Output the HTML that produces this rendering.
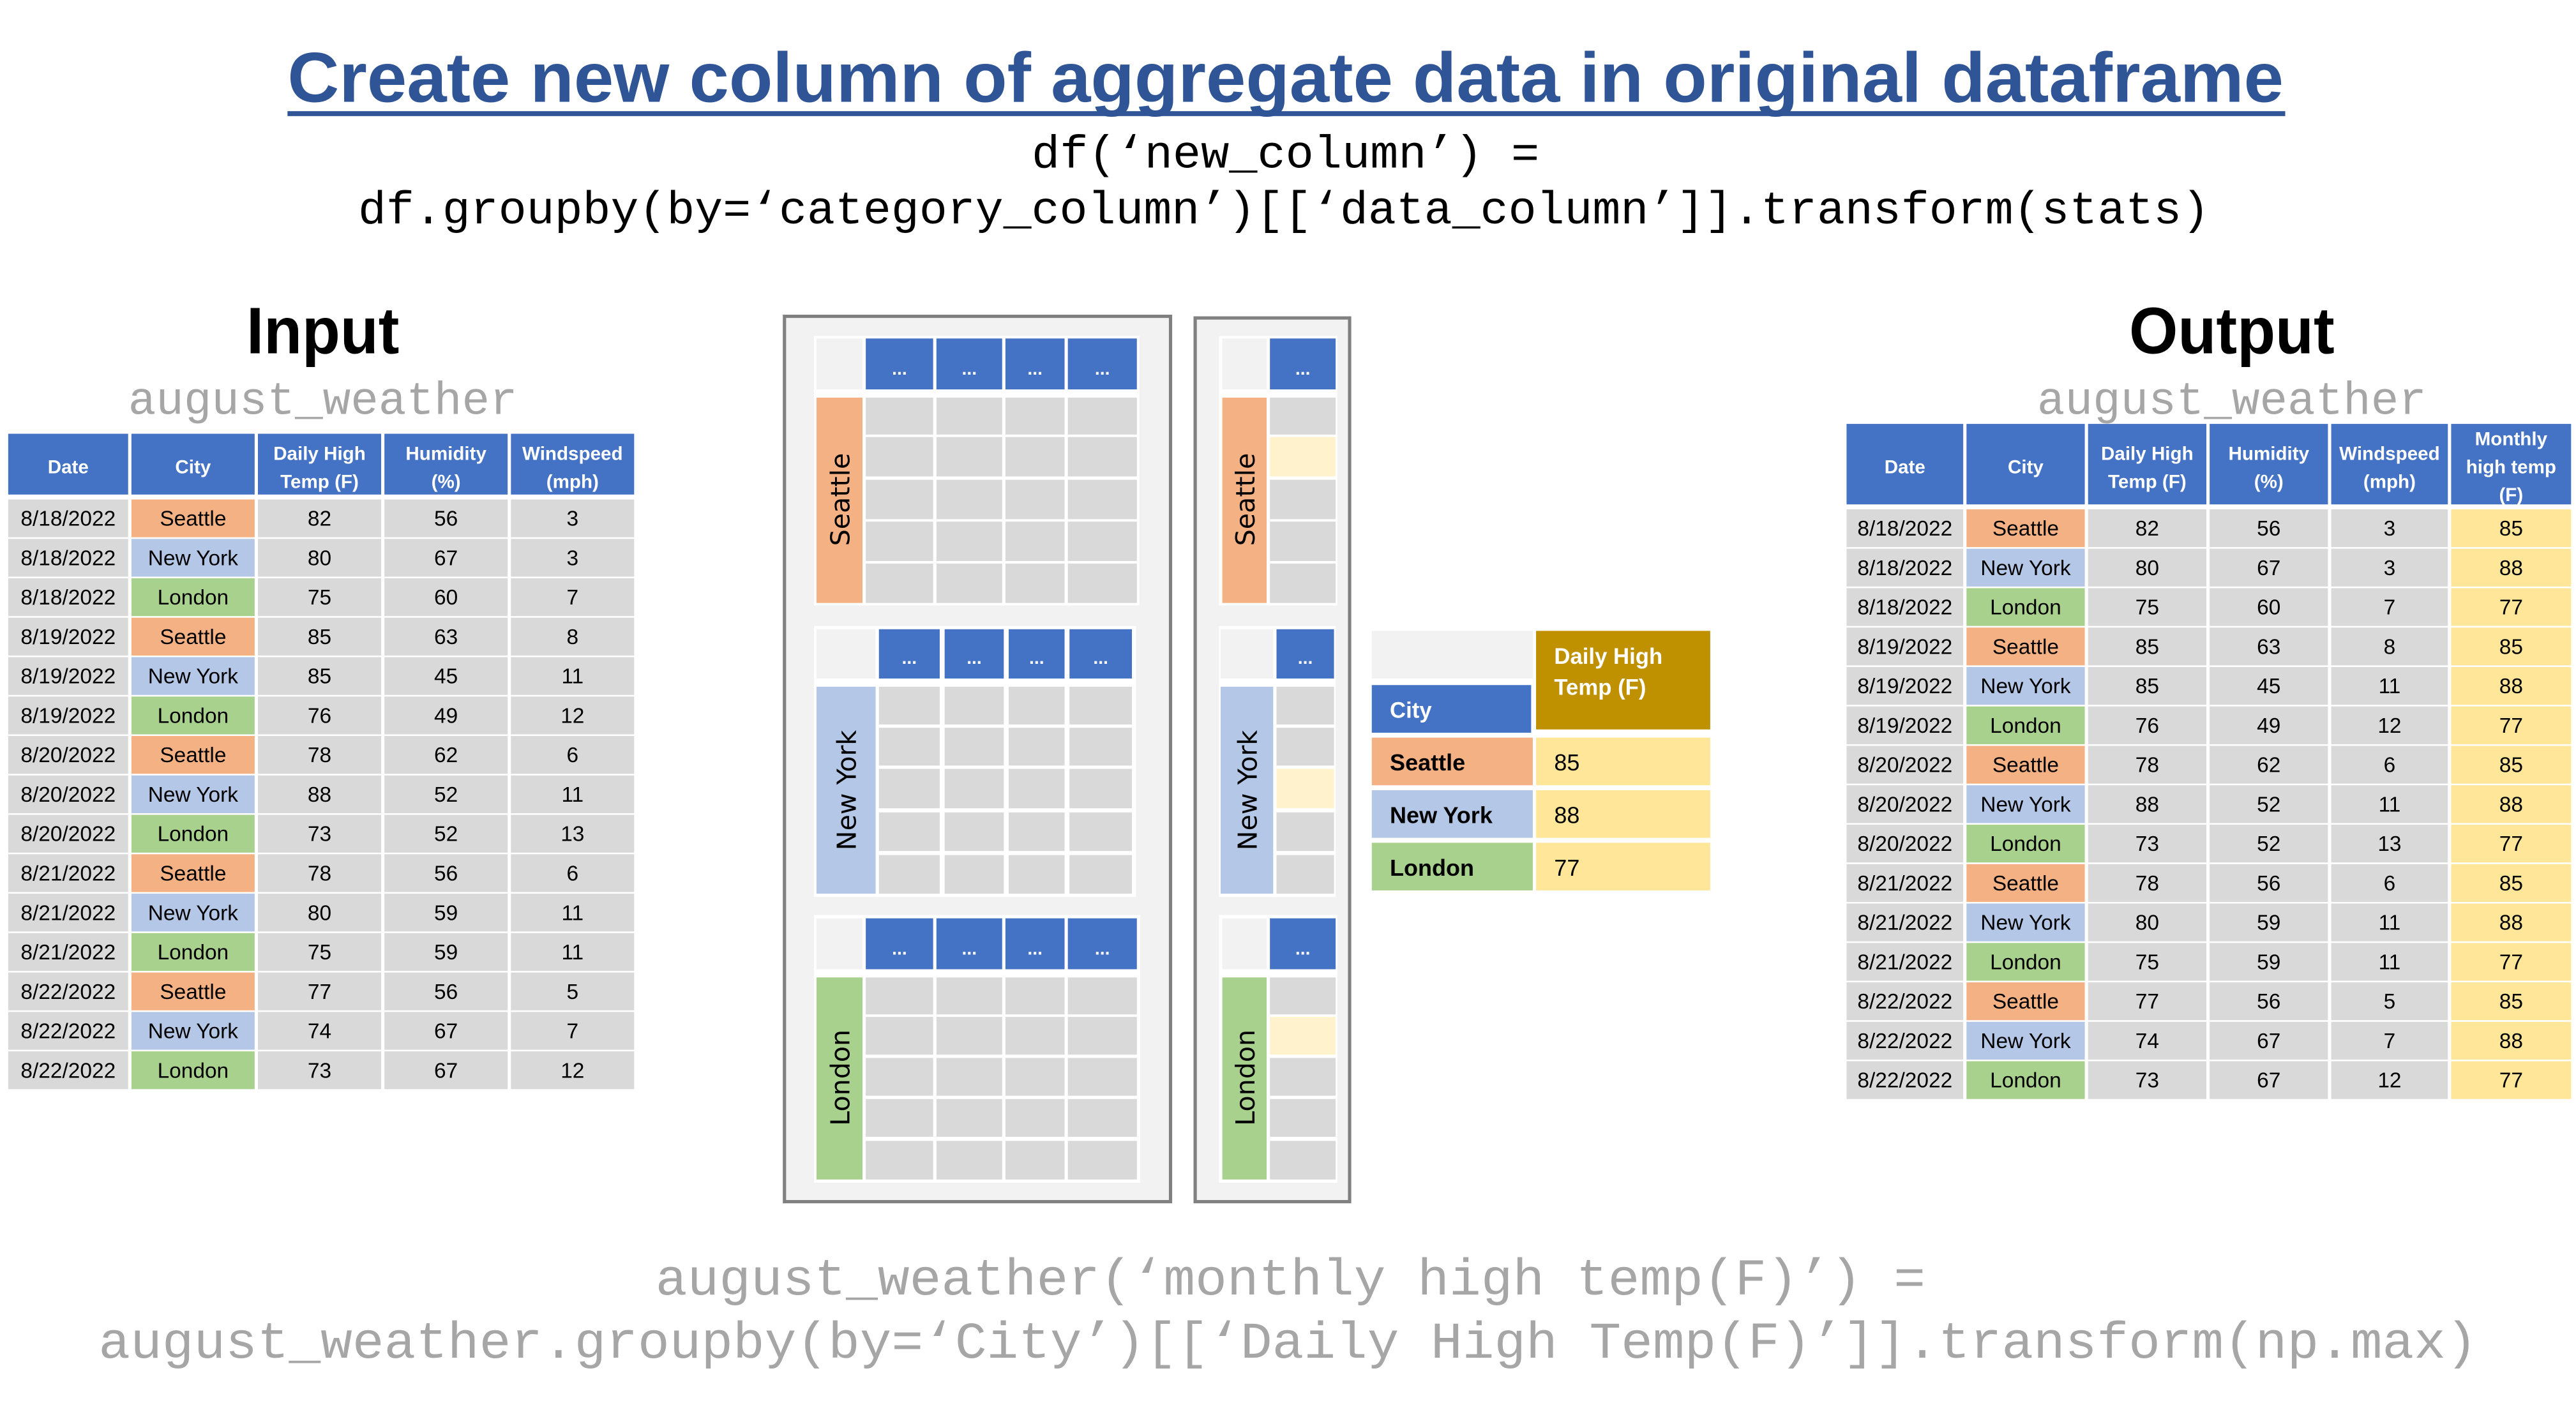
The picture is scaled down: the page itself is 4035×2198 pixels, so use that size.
<!DOCTYPE html>
<html><head><meta charset="utf-8"><style>
html,body{margin:0;padding:0;background:#fff;}
svg{display:block;}
.c{font-family:"Liberation Sans",sans-serif;font-size:13px;fill:#000;text-anchor:middle;}
.h{font-family:"Liberation Sans",sans-serif;font-size:11.5px;font-weight:bold;fill:#fff;text-anchor:middle;}
.m{font-family:"Liberation Mono",monospace;}
.g rect{fill:#D9D9D9;}
.g rect.s{fill:#F4B183;}
.g rect.n{fill:#B4C7E7;}
.g rect.l{fill:#A9D18E;}
.g rect.y{fill:#FFE699;}
.b{fill:#4472C4;}
.d{font-family:"Liberation Sans",sans-serif;font-size:11px;font-weight:bold;fill:#fff;text-anchor:middle;}
.lab{font-family:"DejaVu Sans","Liberation Sans",sans-serif;font-size:16px;fill:#000;text-anchor:middle;}
.gc{fill:#D9D9D9;}
.yc{fill:#FFF2CC;}
</style></head><body>
<svg width="4035" height="2198" viewBox="0 0 1568 854" xmlns="http://www.w3.org/2000/svg">
<rect width="1568" height="854" fill="#fff"/>
<!-- Title -->
<text x="175" y="62" font-family="Liberation Sans, sans-serif" font-weight="bold" font-size="43" fill="#2F5597" textLength="1215" lengthAdjust="spacingAndGlyphs">Create new column of aggregate data in original dataframe</text>
<rect x="175" y="67.6" width="1216" height="3" fill="#2F5597"/>
<text class="m" x="628" y="102" font-size="28" fill="#000" textLength="309" lengthAdjust="spacingAndGlyphs">df(‘new_column’) =</text>
<text class="m" x="218" y="136" font-size="28" fill="#000" textLength="1127" lengthAdjust="spacingAndGlyphs">df.groupby(by=‘category_column’)[[‘data_column’]].transform(stats)</text>

<!-- Input -->
<text x="150" y="215" font-family="Liberation Sans, sans-serif" font-weight="bold" font-size="40" textLength="93" lengthAdjust="spacingAndGlyphs">Input</text>
<text class="m" x="78" y="252" font-size="28" fill="#A6A6A6" textLength="237" lengthAdjust="spacingAndGlyphs">august_weather</text>
<g>
<rect class="b" x="5" y="264" width="73" height="37"/><rect class="b" x="80" y="264" width="75" height="37"/><rect class="b" x="157" y="264" width="75" height="37"/><rect class="b" x="234" y="264" width="75" height="37"/><rect class="b" x="311" y="264" width="75" height="37"/>
<text class="h" x="41.5" y="288">Date</text><text class="h" x="117.5" y="288">City</text>
<text class="h" x="194.5" y="280">Daily High</text><text class="h" x="194.5" y="297">Temp (F)</text>
<text class="h" x="271.5" y="280">Humidity</text><text class="h" x="271.5" y="297">(%)</text>
<text class="h" x="348.5" y="280">Windspeed</text><text class="h" x="348.5" y="297">(mph)</text>
</g>
<g class="g">
<g transform="translate(0,304)"><rect x="5" width="73" height="23"/><rect class="s" x="80" width="75" height="23"/><rect x="157" width="75" height="23"/><rect x="234" width="75" height="23"/><rect x="311" width="75" height="23"/><text class="c" x="41.5" y="16">8/18/2022</text><text class="c" x="117.5" y="16">Seattle</text><text class="c" x="194.5" y="16">82</text><text class="c" x="271.5" y="16">56</text><text class="c" x="348.5" y="16">3</text></g>
<g transform="translate(0,328)"><rect x="5" width="73" height="23"/><rect class="n" x="80" width="75" height="23"/><rect x="157" width="75" height="23"/><rect x="234" width="75" height="23"/><rect x="311" width="75" height="23"/><text class="c" x="41.5" y="16">8/18/2022</text><text class="c" x="117.5" y="16">New York</text><text class="c" x="194.5" y="16">80</text><text class="c" x="271.5" y="16">67</text><text class="c" x="348.5" y="16">3</text></g>
<g transform="translate(0,352)"><rect x="5" width="73" height="23"/><rect class="l" x="80" width="75" height="23"/><rect x="157" width="75" height="23"/><rect x="234" width="75" height="23"/><rect x="311" width="75" height="23"/><text class="c" x="41.5" y="16">8/18/2022</text><text class="c" x="117.5" y="16">London</text><text class="c" x="194.5" y="16">75</text><text class="c" x="271.5" y="16">60</text><text class="c" x="348.5" y="16">7</text></g>
<g transform="translate(0,376)"><rect x="5" width="73" height="23"/><rect class="s" x="80" width="75" height="23"/><rect x="157" width="75" height="23"/><rect x="234" width="75" height="23"/><rect x="311" width="75" height="23"/><text class="c" x="41.5" y="16">8/19/2022</text><text class="c" x="117.5" y="16">Seattle</text><text class="c" x="194.5" y="16">85</text><text class="c" x="271.5" y="16">63</text><text class="c" x="348.5" y="16">8</text></g>
<g transform="translate(0,400)"><rect x="5" width="73" height="23"/><rect class="n" x="80" width="75" height="23"/><rect x="157" width="75" height="23"/><rect x="234" width="75" height="23"/><rect x="311" width="75" height="23"/><text class="c" x="41.5" y="16">8/19/2022</text><text class="c" x="117.5" y="16">New York</text><text class="c" x="194.5" y="16">85</text><text class="c" x="271.5" y="16">45</text><text class="c" x="348.5" y="16">11</text></g>
<g transform="translate(0,424)"><rect x="5" width="73" height="23"/><rect class="l" x="80" width="75" height="23"/><rect x="157" width="75" height="23"/><rect x="234" width="75" height="23"/><rect x="311" width="75" height="23"/><text class="c" x="41.5" y="16">8/19/2022</text><text class="c" x="117.5" y="16">London</text><text class="c" x="194.5" y="16">76</text><text class="c" x="271.5" y="16">49</text><text class="c" x="348.5" y="16">12</text></g>
<g transform="translate(0,448)"><rect x="5" width="73" height="23"/><rect class="s" x="80" width="75" height="23"/><rect x="157" width="75" height="23"/><rect x="234" width="75" height="23"/><rect x="311" width="75" height="23"/><text class="c" x="41.5" y="16">8/20/2022</text><text class="c" x="117.5" y="16">Seattle</text><text class="c" x="194.5" y="16">78</text><text class="c" x="271.5" y="16">62</text><text class="c" x="348.5" y="16">6</text></g>
<g transform="translate(0,472)"><rect x="5" width="73" height="23"/><rect class="n" x="80" width="75" height="23"/><rect x="157" width="75" height="23"/><rect x="234" width="75" height="23"/><rect x="311" width="75" height="23"/><text class="c" x="41.5" y="16">8/20/2022</text><text class="c" x="117.5" y="16">New York</text><text class="c" x="194.5" y="16">88</text><text class="c" x="271.5" y="16">52</text><text class="c" x="348.5" y="16">11</text></g>
<g transform="translate(0,496)"><rect x="5" width="73" height="23"/><rect class="l" x="80" width="75" height="23"/><rect x="157" width="75" height="23"/><rect x="234" width="75" height="23"/><rect x="311" width="75" height="23"/><text class="c" x="41.5" y="16">8/20/2022</text><text class="c" x="117.5" y="16">London</text><text class="c" x="194.5" y="16">73</text><text class="c" x="271.5" y="16">52</text><text class="c" x="348.5" y="16">13</text></g>
<g transform="translate(0,520)"><rect x="5" width="73" height="23"/><rect class="s" x="80" width="75" height="23"/><rect x="157" width="75" height="23"/><rect x="234" width="75" height="23"/><rect x="311" width="75" height="23"/><text class="c" x="41.5" y="16">8/21/2022</text><text class="c" x="117.5" y="16">Seattle</text><text class="c" x="194.5" y="16">78</text><text class="c" x="271.5" y="16">56</text><text class="c" x="348.5" y="16">6</text></g>
<g transform="translate(0,544)"><rect x="5" width="73" height="23"/><rect class="n" x="80" width="75" height="23"/><rect x="157" width="75" height="23"/><rect x="234" width="75" height="23"/><rect x="311" width="75" height="23"/><text class="c" x="41.5" y="16">8/21/2022</text><text class="c" x="117.5" y="16">New York</text><text class="c" x="194.5" y="16">80</text><text class="c" x="271.5" y="16">59</text><text class="c" x="348.5" y="16">11</text></g>
<g transform="translate(0,568)"><rect x="5" width="73" height="23"/><rect class="l" x="80" width="75" height="23"/><rect x="157" width="75" height="23"/><rect x="234" width="75" height="23"/><rect x="311" width="75" height="23"/><text class="c" x="41.5" y="16">8/21/2022</text><text class="c" x="117.5" y="16">London</text><text class="c" x="194.5" y="16">75</text><text class="c" x="271.5" y="16">59</text><text class="c" x="348.5" y="16">11</text></g>
<g transform="translate(0,592)"><rect x="5" width="73" height="23"/><rect class="s" x="80" width="75" height="23"/><rect x="157" width="75" height="23"/><rect x="234" width="75" height="23"/><rect x="311" width="75" height="23"/><text class="c" x="41.5" y="16">8/22/2022</text><text class="c" x="117.5" y="16">Seattle</text><text class="c" x="194.5" y="16">77</text><text class="c" x="271.5" y="16">56</text><text class="c" x="348.5" y="16">5</text></g>
<g transform="translate(0,616)"><rect x="5" width="73" height="23"/><rect class="n" x="80" width="75" height="23"/><rect x="157" width="75" height="23"/><rect x="234" width="75" height="23"/><rect x="311" width="75" height="23"/><text class="c" x="41.5" y="16">8/22/2022</text><text class="c" x="117.5" y="16">New York</text><text class="c" x="194.5" y="16">74</text><text class="c" x="271.5" y="16">67</text><text class="c" x="348.5" y="16">7</text></g>
<g transform="translate(0,640)"><rect x="5" width="73" height="23"/><rect class="l" x="80" width="75" height="23"/><rect x="157" width="75" height="23"/><rect x="234" width="75" height="23"/><rect x="311" width="75" height="23"/><text class="c" x="41.5" y="16">8/22/2022</text><text class="c" x="117.5" y="16">London</text><text class="c" x="194.5" y="16">73</text><text class="c" x="271.5" y="16">67</text><text class="c" x="348.5" y="16">12</text></g>
</g>

<!-- Output -->
<text x="1296" y="215" font-family="Liberation Sans, sans-serif" font-weight="bold" font-size="40" textLength="125" lengthAdjust="spacingAndGlyphs">Output</text>
<text class="m" x="1240" y="252" font-size="28" fill="#A6A6A6" textLength="237" lengthAdjust="spacingAndGlyphs">august_weather</text>
<g>
<rect class="b" x="1124" y="258" width="71" height="49"/><rect class="b" x="1197" y="258" width="72" height="49"/><rect class="b" x="1271" y="258" width="72" height="49"/><rect class="b" x="1345" y="258" width="72" height="49"/><rect class="b" x="1419" y="258" width="71" height="49"/><rect class="b" x="1492" y="258" width="73" height="49"/>
<text class="h" x="1159.5" y="288">Date</text><text class="h" x="1233" y="288">City</text>
<text class="h" x="1307" y="280">Daily High</text><text class="h" x="1307" y="297">Temp (F)</text>
<text class="h" x="1381" y="280">Humidity</text><text class="h" x="1381" y="297">(%)</text>
<text class="h" x="1454.5" y="280">Windspeed</text><text class="h" x="1454.5" y="297">(mph)</text>
<text class="h" x="1528.5" y="271">Monthly</text><text class="h" x="1528.5" y="288">high temp</text><text class="h" x="1528.5" y="305">(F)</text>
</g>
<g class="g">
<g transform="translate(0,310)"><rect x="1124" width="71" height="23"/><rect class="s" x="1197" width="72" height="23"/><rect x="1271" width="72" height="23"/><rect x="1345" width="72" height="23"/><rect x="1419" width="71" height="23"/><rect class="y" x="1492" width="73" height="23"/><text class="c" x="1159.5" y="16">8/18/2022</text><text class="c" x="1233" y="16">Seattle</text><text class="c" x="1307" y="16">82</text><text class="c" x="1381" y="16">56</text><text class="c" x="1454.5" y="16">3</text><text class="c" x="1528.5" y="16">85</text></g>
<g transform="translate(0,334)"><rect x="1124" width="71" height="23"/><rect class="n" x="1197" width="72" height="23"/><rect x="1271" width="72" height="23"/><rect x="1345" width="72" height="23"/><rect x="1419" width="71" height="23"/><rect class="y" x="1492" width="73" height="23"/><text class="c" x="1159.5" y="16">8/18/2022</text><text class="c" x="1233" y="16">New York</text><text class="c" x="1307" y="16">80</text><text class="c" x="1381" y="16">67</text><text class="c" x="1454.5" y="16">3</text><text class="c" x="1528.5" y="16">88</text></g>
<g transform="translate(0,358)"><rect x="1124" width="71" height="23"/><rect class="l" x="1197" width="72" height="23"/><rect x="1271" width="72" height="23"/><rect x="1345" width="72" height="23"/><rect x="1419" width="71" height="23"/><rect class="y" x="1492" width="73" height="23"/><text class="c" x="1159.5" y="16">8/18/2022</text><text class="c" x="1233" y="16">London</text><text class="c" x="1307" y="16">75</text><text class="c" x="1381" y="16">60</text><text class="c" x="1454.5" y="16">7</text><text class="c" x="1528.5" y="16">77</text></g>
<g transform="translate(0,382)"><rect x="1124" width="71" height="23"/><rect class="s" x="1197" width="72" height="23"/><rect x="1271" width="72" height="23"/><rect x="1345" width="72" height="23"/><rect x="1419" width="71" height="23"/><rect class="y" x="1492" width="73" height="23"/><text class="c" x="1159.5" y="16">8/19/2022</text><text class="c" x="1233" y="16">Seattle</text><text class="c" x="1307" y="16">85</text><text class="c" x="1381" y="16">63</text><text class="c" x="1454.5" y="16">8</text><text class="c" x="1528.5" y="16">85</text></g>
<g transform="translate(0,406)"><rect x="1124" width="71" height="23"/><rect class="n" x="1197" width="72" height="23"/><rect x="1271" width="72" height="23"/><rect x="1345" width="72" height="23"/><rect x="1419" width="71" height="23"/><rect class="y" x="1492" width="73" height="23"/><text class="c" x="1159.5" y="16">8/19/2022</text><text class="c" x="1233" y="16">New York</text><text class="c" x="1307" y="16">85</text><text class="c" x="1381" y="16">45</text><text class="c" x="1454.5" y="16">11</text><text class="c" x="1528.5" y="16">88</text></g>
<g transform="translate(0,430)"><rect x="1124" width="71" height="23"/><rect class="l" x="1197" width="72" height="23"/><rect x="1271" width="72" height="23"/><rect x="1345" width="72" height="23"/><rect x="1419" width="71" height="23"/><rect class="y" x="1492" width="73" height="23"/><text class="c" x="1159.5" y="16">8/19/2022</text><text class="c" x="1233" y="16">London</text><text class="c" x="1307" y="16">76</text><text class="c" x="1381" y="16">49</text><text class="c" x="1454.5" y="16">12</text><text class="c" x="1528.5" y="16">77</text></g>
<g transform="translate(0,454)"><rect x="1124" width="71" height="23"/><rect class="s" x="1197" width="72" height="23"/><rect x="1271" width="72" height="23"/><rect x="1345" width="72" height="23"/><rect x="1419" width="71" height="23"/><rect class="y" x="1492" width="73" height="23"/><text class="c" x="1159.5" y="16">8/20/2022</text><text class="c" x="1233" y="16">Seattle</text><text class="c" x="1307" y="16">78</text><text class="c" x="1381" y="16">62</text><text class="c" x="1454.5" y="16">6</text><text class="c" x="1528.5" y="16">85</text></g>
<g transform="translate(0,478)"><rect x="1124" width="71" height="23"/><rect class="n" x="1197" width="72" height="23"/><rect x="1271" width="72" height="23"/><rect x="1345" width="72" height="23"/><rect x="1419" width="71" height="23"/><rect class="y" x="1492" width="73" height="23"/><text class="c" x="1159.5" y="16">8/20/2022</text><text class="c" x="1233" y="16">New York</text><text class="c" x="1307" y="16">88</text><text class="c" x="1381" y="16">52</text><text class="c" x="1454.5" y="16">11</text><text class="c" x="1528.5" y="16">88</text></g>
<g transform="translate(0,502)"><rect x="1124" width="71" height="23"/><rect class="l" x="1197" width="72" height="23"/><rect x="1271" width="72" height="23"/><rect x="1345" width="72" height="23"/><rect x="1419" width="71" height="23"/><rect class="y" x="1492" width="73" height="23"/><text class="c" x="1159.5" y="16">8/20/2022</text><text class="c" x="1233" y="16">London</text><text class="c" x="1307" y="16">73</text><text class="c" x="1381" y="16">52</text><text class="c" x="1454.5" y="16">13</text><text class="c" x="1528.5" y="16">77</text></g>
<g transform="translate(0,526)"><rect x="1124" width="71" height="23"/><rect class="s" x="1197" width="72" height="23"/><rect x="1271" width="72" height="23"/><rect x="1345" width="72" height="23"/><rect x="1419" width="71" height="23"/><rect class="y" x="1492" width="73" height="23"/><text class="c" x="1159.5" y="16">8/21/2022</text><text class="c" x="1233" y="16">Seattle</text><text class="c" x="1307" y="16">78</text><text class="c" x="1381" y="16">56</text><text class="c" x="1454.5" y="16">6</text><text class="c" x="1528.5" y="16">85</text></g>
<g transform="translate(0,550)"><rect x="1124" width="71" height="23"/><rect class="n" x="1197" width="72" height="23"/><rect x="1271" width="72" height="23"/><rect x="1345" width="72" height="23"/><rect x="1419" width="71" height="23"/><rect class="y" x="1492" width="73" height="23"/><text class="c" x="1159.5" y="16">8/21/2022</text><text class="c" x="1233" y="16">New York</text><text class="c" x="1307" y="16">80</text><text class="c" x="1381" y="16">59</text><text class="c" x="1454.5" y="16">11</text><text class="c" x="1528.5" y="16">88</text></g>
<g transform="translate(0,574)"><rect x="1124" width="71" height="23"/><rect class="l" x="1197" width="72" height="23"/><rect x="1271" width="72" height="23"/><rect x="1345" width="72" height="23"/><rect x="1419" width="71" height="23"/><rect class="y" x="1492" width="73" height="23"/><text class="c" x="1159.5" y="16">8/21/2022</text><text class="c" x="1233" y="16">London</text><text class="c" x="1307" y="16">75</text><text class="c" x="1381" y="16">59</text><text class="c" x="1454.5" y="16">11</text><text class="c" x="1528.5" y="16">77</text></g>
<g transform="translate(0,598)"><rect x="1124" width="71" height="23"/><rect class="s" x="1197" width="72" height="23"/><rect x="1271" width="72" height="23"/><rect x="1345" width="72" height="23"/><rect x="1419" width="71" height="23"/><rect class="y" x="1492" width="73" height="23"/><text class="c" x="1159.5" y="16">8/22/2022</text><text class="c" x="1233" y="16">Seattle</text><text class="c" x="1307" y="16">77</text><text class="c" x="1381" y="16">56</text><text class="c" x="1454.5" y="16">5</text><text class="c" x="1528.5" y="16">85</text></g>
<g transform="translate(0,622)"><rect x="1124" width="71" height="23"/><rect class="n" x="1197" width="72" height="23"/><rect x="1271" width="72" height="23"/><rect x="1345" width="72" height="23"/><rect x="1419" width="71" height="23"/><rect class="y" x="1492" width="73" height="23"/><text class="c" x="1159.5" y="16">8/22/2022</text><text class="c" x="1233" y="16">New York</text><text class="c" x="1307" y="16">74</text><text class="c" x="1381" y="16">67</text><text class="c" x="1454.5" y="16">7</text><text class="c" x="1528.5" y="16">88</text></g>
<g transform="translate(0,646)"><rect x="1124" width="71" height="23"/><rect class="l" x="1197" width="72" height="23"/><rect x="1271" width="72" height="23"/><rect x="1345" width="72" height="23"/><rect x="1419" width="71" height="23"/><rect class="y" x="1492" width="73" height="23"/><text class="c" x="1159.5" y="16">8/22/2022</text><text class="c" x="1233" y="16">London</text><text class="c" x="1307" y="16">73</text><text class="c" x="1381" y="16">67</text><text class="c" x="1454.5" y="16">12</text><text class="c" x="1528.5" y="16">77</text></g>
</g>

<!-- Middle box 1 -->
<rect x="477.5" y="192.5" width="235" height="539" fill="#F2F2F2" stroke="#808080" stroke-width="2"/>
<rect x="727.5" y="193.5" width="94" height="538" fill="#F2F2F2" stroke="#808080" stroke-width="2"/>

<!-- Seattle group box1 -->
<rect x="495.5" y="204.5" width="198" height="164" fill="#fff"/>
<rect x="497" y="206" width="28" height="31" fill="#F2F2F2"/>
<rect class="b" x="527" y="206" width="41" height="31"/><rect class="b" x="570" y="206" width="40" height="31"/><rect class="b" x="612" y="206" width="36" height="31"/><rect class="b" x="650" y="206" width="42" height="31"/>
<text class="d" x="547.5" y="228">...</text><text class="d" x="590" y="228">...</text><text class="d" x="630" y="228">...</text><text class="d" x="671" y="228">...</text>
<rect x="497" y="242" width="28" height="125" fill="#F4B183"/>
<g class="gc">
<rect x="527" y="242" width="41" height="22.5"/><rect x="570" y="242" width="40" height="22.5"/><rect x="612" y="242" width="36" height="22.5"/><rect x="650" y="242" width="42" height="22.5"/>
<rect x="527" y="266" width="41" height="24"/><rect x="570" y="266" width="40" height="24"/><rect x="612" y="266" width="36" height="24"/><rect x="650" y="266" width="42" height="24"/>
<rect x="527" y="292" width="41" height="24"/><rect x="570" y="292" width="40" height="24"/><rect x="612" y="292" width="36" height="24"/><rect x="650" y="292" width="42" height="24"/>
<rect x="527" y="317.5" width="41" height="24"/><rect x="570" y="317.5" width="40" height="24"/><rect x="612" y="317.5" width="36" height="24"/><rect x="650" y="317.5" width="42" height="24"/>
<rect x="527" y="343" width="41" height="24"/><rect x="570" y="343" width="40" height="24"/><rect x="612" y="343" width="36" height="24"/><rect x="650" y="343" width="42" height="24"/>
</g>
<text class="lab" transform="translate(511,304) rotate(-90)" y="6">Seattle</text>

<!-- New York group box1 -->
<rect x="495.5" y="381" width="196" height="165" fill="#fff"/>
<rect x="497" y="383" width="36" height="30" fill="#F2F2F2"/>
<rect class="b" x="535" y="383" width="37" height="30"/><rect class="b" x="575" y="383" width="36" height="30"/><rect class="b" x="614" y="383" width="34" height="30"/><rect class="b" x="651" y="383" width="38" height="30"/>
<text class="d" x="553.5" y="404">...</text><text class="d" x="593" y="404">...</text><text class="d" x="631" y="404">...</text><text class="d" x="670" y="404">...</text>
<rect x="497" y="418" width="36" height="126" fill="#B4C7E7"/>
<g class="gc">
<rect x="535" y="418" width="37" height="23"/><rect x="575" y="418" width="36" height="23"/><rect x="614" y="418" width="34" height="23"/><rect x="651" y="418" width="38" height="23"/>
<rect x="535" y="443" width="37" height="23"/><rect x="575" y="443" width="36" height="23"/><rect x="614" y="443" width="34" height="23"/><rect x="651" y="443" width="38" height="23"/>
<rect x="535" y="468" width="37" height="24"/><rect x="575" y="468" width="36" height="24"/><rect x="614" y="468" width="34" height="24"/><rect x="651" y="468" width="38" height="24"/>
<rect x="535" y="494.5" width="37" height="23.5"/><rect x="575" y="494.5" width="36" height="23.5"/><rect x="614" y="494.5" width="34" height="23.5"/><rect x="651" y="494.5" width="38" height="23.5"/>
<rect x="535" y="520.5" width="37" height="23.5"/><rect x="575" y="520.5" width="36" height="23.5"/><rect x="614" y="520.5" width="34" height="23.5"/><rect x="651" y="520.5" width="38" height="23.5"/>
</g>
<text class="lab" transform="translate(515,481) rotate(-90)" y="6">New York</text>

<!-- London group box1 -->
<rect x="495.5" y="557" width="198.5" height="163" fill="#fff"/>
<rect x="497" y="559" width="28" height="31" fill="#F2F2F2"/>
<rect class="b" x="527" y="559" width="41" height="31"/><rect class="b" x="570" y="559" width="40" height="31"/><rect class="b" x="612" y="559" width="36" height="31"/><rect class="b" x="650" y="559" width="42" height="31"/>
<text class="d" x="547.5" y="581">...</text><text class="d" x="590" y="581">...</text><text class="d" x="630" y="581">...</text><text class="d" x="671" y="581">...</text>
<rect x="497" y="595" width="28" height="123" fill="#A9D18E"/>
<g class="gc">
<rect x="527" y="595" width="41" height="22.5"/><rect x="570" y="595" width="40" height="22.5"/><rect x="612" y="595" width="36" height="22.5"/><rect x="650" y="595" width="42" height="22.5"/>
<rect x="527" y="619" width="41" height="23"/><rect x="570" y="619" width="40" height="23"/><rect x="612" y="619" width="36" height="23"/><rect x="650" y="619" width="42" height="23"/>
<rect x="527" y="644" width="41" height="23"/><rect x="570" y="644" width="40" height="23"/><rect x="612" y="644" width="36" height="23"/><rect x="650" y="644" width="42" height="23"/>
<rect x="527" y="669" width="41" height="23"/><rect x="570" y="669" width="40" height="23"/><rect x="612" y="669" width="36" height="23"/><rect x="650" y="669" width="42" height="23"/>
<rect x="527" y="694.5" width="41" height="23.5"/><rect x="570" y="694.5" width="40" height="23.5"/><rect x="612" y="694.5" width="36" height="23.5"/><rect x="650" y="694.5" width="42" height="23.5"/>
</g>
<text class="lab" transform="translate(511,656) rotate(-90)" y="6">London</text>

<!-- Box 2 Seattle -->
<rect x="742" y="204.5" width="72" height="164" fill="#fff"/>
<rect x="744" y="206" width="27" height="31" fill="#F2F2F2"/>
<rect class="b" x="773" y="206" width="40" height="31"/>
<text class="d" x="793" y="228">...</text>
<rect x="744" y="242" width="27" height="125" fill="#F4B183"/>
<rect class="gc" x="773" y="242" width="40" height="22.5"/>
<rect class="yc" x="773" y="266" width="40" height="24"/>
<rect class="gc" x="773" y="292" width="40" height="24"/>
<rect class="gc" x="773" y="317.5" width="40" height="24"/>
<rect class="gc" x="773" y="343" width="40" height="24"/>
<text class="lab" transform="translate(757.5,304) rotate(-90)" y="6">Seattle</text>

<!-- Box 2 New York -->
<rect x="742" y="381" width="71" height="165" fill="#fff"/>
<rect x="743" y="383" width="32" height="30" fill="#F2F2F2"/>
<rect class="b" x="777" y="383" width="35" height="30"/>
<text class="d" x="794.5" y="404">...</text>
<rect x="743" y="418" width="32" height="126" fill="#B4C7E7"/>
<rect class="gc" x="777" y="418" width="35" height="23"/>
<rect class="gc" x="777" y="443" width="35" height="23"/>
<rect class="yc" x="777" y="468" width="35" height="24"/>
<rect class="gc" x="777" y="494.5" width="35" height="23.5"/>
<rect class="gc" x="777" y="520.5" width="35" height="23.5"/>
<text class="lab" transform="translate(759,481) rotate(-90)" y="6">New York</text>

<!-- Box 2 London -->
<rect x="742" y="557" width="72" height="163" fill="#fff"/>
<rect x="744" y="559" width="27" height="31" fill="#F2F2F2"/>
<rect class="b" x="773" y="559" width="40" height="31"/>
<text class="d" x="793" y="581">...</text>
<rect x="744" y="595" width="27" height="123" fill="#A9D18E"/>
<rect class="gc" x="773" y="595" width="40" height="22.5"/>
<rect class="yc" x="773" y="619" width="40" height="23"/>
<rect class="gc" x="773" y="644" width="40" height="23"/>
<rect class="gc" x="773" y="669" width="40" height="23"/>
<rect class="gc" x="773" y="694.5" width="40" height="23.5"/>
<text class="lab" transform="translate(757.5,656) rotate(-90)" y="6">London</text>

<!-- Summary table -->
<rect x="835" y="384" width="98" height="29" fill="#F2F2F2"/>
<rect x="935" y="384" width="106" height="60" fill="#BF9000"/>
<text x="946" y="404" font-family="Liberation Sans, sans-serif" font-weight="bold" font-size="13.5" fill="#fff">Daily High</text>
<text x="946" y="423" font-family="Liberation Sans, sans-serif" font-weight="bold" font-size="13.5" fill="#fff">Temp (F)</text>
<rect class="b" x="835" y="417" width="97" height="29"/>
<text x="846" y="437" font-family="Liberation Sans, sans-serif" font-weight="bold" font-size="13.5" fill="#fff">City</text>
<rect x="835" y="449" width="98" height="29" fill="#F4B183"/>
<rect x="935" y="449" width="106" height="29" fill="#FFE699"/>
<rect x="835" y="481" width="98" height="29" fill="#B4C7E7"/>
<rect x="935" y="481" width="106" height="29" fill="#FFE699"/>
<rect x="835" y="513" width="98" height="29" fill="#A9D18E"/>
<rect x="935" y="513" width="106" height="29" fill="#FFE699"/>
<g font-family="Liberation Sans, sans-serif" font-size="14" fill="#000">
<text x="846" y="469" font-weight="bold">Seattle</text><text x="946" y="469">85</text>
<text x="846" y="501" font-weight="bold">New York</text><text x="946" y="501">88</text>
<text x="846" y="533" font-weight="bold">London</text><text x="946" y="533">77</text>
</g>

<!-- bottom code -->
<text class="m" x="399" y="788" font-size="31.5" fill="#A6A6A6" textLength="773" lengthAdjust="spacingAndGlyphs">august_weather(‘monthly high temp(F)’) =</text>
<text class="m" x="60" y="826.5" font-size="31.5" fill="#A6A6A6" textLength="1448" lengthAdjust="spacingAndGlyphs">august_weather.groupby(by=‘City’)[[‘Daily High Temp(F)’]].transform(np.max)</text>
</svg>
</body></html>
